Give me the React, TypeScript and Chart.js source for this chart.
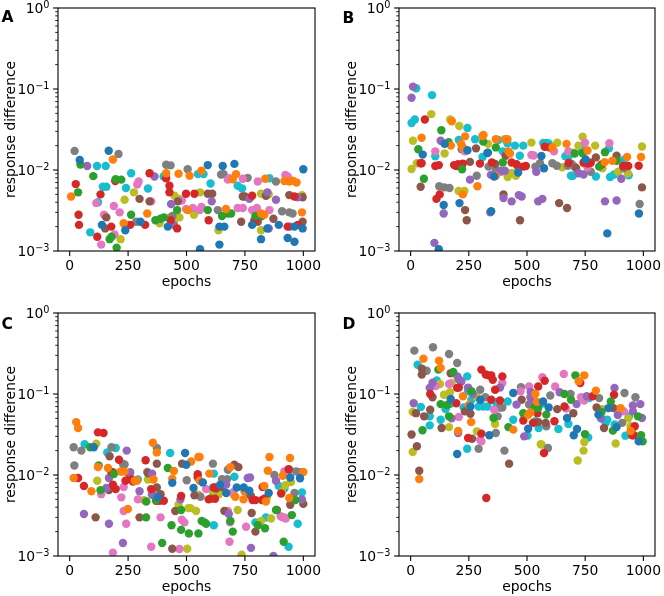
import React, { useEffect, useRef } from 'react';
import { Chart, registerables } from 'chart.js';

Chart.register(...registerables);

// tab10 palette
const COLORS = ['#1f77b4', '#ff7f0e', '#2ca02c', '#d62728', '#9467bd', '#8c564b', '#e377c2', '#7f7f7f', '#bcbd22', '#17becf'];
const bl = 0, or = 1, gr = 2, rd = 3, pu = 4, br = 5, pk = 6, gy = 7, ol = 8, cy = 9;

const X_TICKS = [0, 250, 500, 750, 1000];
const Y_TICKS = [1e-3, 1e-2, 1e-1, 1];
const Y_EXPONENTS = ['\u22123', '\u22122', '\u22121', '0'];
const X_TITLE = 'epochs';
const Y_TITLE = 'response difference';

type Pt = [number, number, number]; // [epoch, response difference, colour index]

const panelA: Pt[] = [
  [21, .0172, gy], [43, .0133, bl], [46, .0117, gr], [75, .0112, pu], [117, .0112, cy], [154, .0112, cy], [167, .0173, bl], [185, .0135, or], [209, .0158, gy], [101, .0084, gr],
  [26, .0067, rd], [36, .0053, gr], [6, .0047, or], [38, .0028, rd], [40, .0021, rd], [142, .0062, cy], [157, .0062, cy], [195, .0073, rd], [197, .0077, gr], [221, .0076, gr],
  [263, .0091, cy], [241, .006, cy], [275, .0053, ol], [235, .0043, ol], [132, .005, rd], [114, .0039, pk], [121, .004, cy], [189, .0036, pk], [214, .003, pk], [295, .0072, pk],
  [289, .0066, pk], [299, .0044, br], [342, .0041, br], [349, .0041, pk], [335, .0059, cy], [342, .0091, rd], [363, .0083, pu], [231, .0022, or], [238, .0018, bl], [285, .0023, gy],
  [303, .0023, bl], [259, .0021, rd], [323, .0021, rd], [332, .0029, or], [263, .0028, gr], [157, .0026, br], [147, .0028, pk], [138, .0021, bl], [152, .0019, br], [178, .002, rd],
  [118, .0015, rd], [88, .0017, cy], [135, .0012, pk], [171, .0014, gr], [179, .0015, gr], [192, .0016, pk], [218, .0014, ol], [201, .0011, gr],
  [413, .0116, gy], [432, .0114, gy], [413, .0091, or], [410, .0087, cy], [466, .009, or], [427, .0064, rd], [427, .0053, rd], [449, .0048, ol], [470, .0044, ol], [434, .0038, pu],
  [463, .0041, br], [480, .0042, pk], [432, .0024, rd], [460, .0032, gr], [367, .0024, gr], [389, .0025, gr], [403, .0026, gr], [385, .0022, ol], [427, .0026, ol], [446, .0023, ol],
  [420, .002, bl], [440, .0027, gy], [445, .0021, pu], [460, .0019, rd], [505, .0032, or], [470, .0026, ol], [413, .0079, rd], [402, .0083, cy],
  [505, .0102, gy], [513, .0085, or], [564, .0098, or], [549, .0089, cy], [573, .0089, cy], [591, .0115, bl], [603, .0068, cy], [655, .0112, bl], [705, .0119, bl], [659, .0089, gy],
  [712, .0089, or], [698, .0077, or], [677, .0076, pk], [684, .0079, pk], [762, .008, gy], [741, .0078, pk], [719, .0064, cy], [738, .0059, cy], [805, .0072, pk], [855, .0079, cy],
  [837, .0078, or], [883, .0072, gy], [923, .0087, pk], [933, .0083, pk], [919, .0073, or], [940, .0072, or], [954, .0074, or], [971, .007, or], [1000, .0102, bl], [498, .0051, rd],
  [558, .0053, ol], [591, .0051, br], [610, .0051, br], [534, .0051, rd], [608, .0041, pu], [741, .0047, br], [750, .0047, br], [781, .0048, rd], [769, .0044, pu], [819, .0051, ol],
  [840, .0048, br], [846, .0053, pu], [852, .005, ol], [883, .0043, pu], [940, .0049, br], [962, .0047, rd], [994, .0049, ol], [975, .0046, pu], [997, .0046, br],
  [498, .0033, pk], [527, .0034, pk], [564, .0035, pk], [557, .0032, pk], [591, .0032, gr], [532, .0028, ol], [634, .0032, gy], [669, .0033, or], [719, .0034, pk], [741, .0034, pk],
  [781, .0032, pk], [801, .0034, pk], [819, .0029, or], [833, .0028, or], [855, .0032, pk], [909, .0031, gy], [940, .003, gy], [954, .0029, gy], [994, .003, or], [652, .0027, gr],
  [677, .0029, gr], [691, .0029, gr], [795, .0027, gr], [823, .0027, gr], [595, .0024, rd], [791, .0024, rd], [805, .0023, br], [734, .0023, br], [872, .0025, br], [933, .002, rd],
  [976, .0021, rd], [997, .0023, br], [641, .002, bl], [662, .002, bl], [781, .0021, bl], [846, .0019, bl], [895, .0021, bl], [962, .002, bl], [997, .0019, bl], [819, .0018, ol],
  [852, .0019, pu], [933, .00145, bl], [962, .0013, bl], [819, .0014, bl], [641, .0012, bl], [558, .00105, bl], [943, .002, pu], [637, .0018, ol], [648, .0088, gy],
];

const panelB: Pt[] = [
  [10, .107, pu], [24, .102, cy], [4, .078, pu], [92, .084, cy], [4, .038, cy], [18, .042, cy], [61, .042, rd], [89, .049, ol], [170, .042, ol], [177, .04, or],
  [209, .035, ol], [244, .033, cy], [132, .031, gr], [10, .023, ol], [47, .025, or], [33, .018, gr], [106, .0148, cy], [106, .017, pk], [52, .0155, bl], [43, .0121, rd],
  [47, .0121, rd], [4, .0103, ol], [27, .0121, ol], [57, .0078, gr], [43, .0062, br], [129, .023, pu], [146, .021, bl], [163, .022, gr], [173, .02, or], [146, .016, ol],
  [207, .0235, cy], [234, .026, or], [217, .021, or], [224, .019, or], [219, .018, gy], [233, .017, pk], [244, .0175, bl], [221, .0102, gr], [106, .0112, rd], [121, .0115, rd],
  [187, .0115, rd], [196, .0112, rd], [204, .0118, rd], [224, .012, rd], [255, .0126, br], [111, .0044, rd], [125, .005, rd], [123, .0063, gy], [145, .0061, gy], [167, .006, gy],
  [206, .0055, ol], [231, .0055, ol], [224, .005, or], [142, .0037, bl], [142, .0029, pu], [210, .0039, bl], [234, .0032, br], [241, .0024, br], [102, .00126, pu], [121, .00105, bl],
  [281, .0185, br], [277, .024, cy], [312, .0224, gr], [309, .0263, or], [284, .0085, gy], [287, .0063, or], [255, .0076, pu], [298, .012, rd], [309, .0145, cy], [330, .0162, bl], [345, .0087, pu],
  [313, .027, or], [332, .021, ol], [366, .024, or], [406, .024, or], [416, .024, or], [377, .0235, cy], [366, .019, gr], [416, .0214, cy], [420, .017, or], [427, .016, or],
  [332, .0164, bl], [349, .0124, rd], [335, .011, gy], [359, .0083, bl], [366, .0085, or], [363, .0119, br], [367, .01, gy], [384, .0098, pu], [391, .0096, pu], [408, .015, br],
  [396, .017, cy], [405, .0098, pu], [417, .0082, ol], [434, .0092, ol], [434, .0124, rd], [396, .0124, gr], [460, .011, gy], [452, .0085, ol], [462, .0093, bl], [455, .0118, rd],
  [448, .02, cy], [469, .015, cy], [484, .02, cy], [484, .011, rd], [495, .0112, rd], [465, .0049, pu], [477, .0047, pu], [470, .0024, br], [434, .0041, pu], [399, .005, br],
  [399, .0045, pu], [346, .0031, bl], [342, .003, pu], [519, .0218, ol], [519, .0153, pk], [529, .0151, pk], [536, .011, gy], [556, .0121, gy], [562, .0149, bl], [540, .0095, pu],
  [573, .0105, bl], [570, .0215, cy], [583, .0215, cy], [593, .0213, cy], [548, .0041, pu], [566, .0044, pu], [576, .0194, rd], [616, .017, pk], [609, .0121, gy], [597, .019, rd],
  [609, .019, or], [630, .0217, ol], [628, .0113, gy], [651, .0108, ol], [638, .0039, br], [670, .021, or], [665, .0148, cy], [678, .0145, cy], [672, .0034, br], [675, .0113, gy],
  [692, .0119, gy], [704, .011, gy], [679, .0122, rd], [689, .0085, cy], [697, .0085, cy], [699, .0163, ol], [678, .017, pk], [705, .016, gr], [721, .02, ol], [722, .0091, pu],
  [743, .0088, pu], [711, .0106, br], [749, .0217, pk], [739, .0257, ol], [739, .0161, gr], [735, .018, cy], [743, .0124, rd], [760, .0174, or], [760, .012, rd], [746, .012, ol],
  [774, .0123, rd], [774, .0095, gy], [796, .0143, br], [793, .02, ol], [796, .0083, cy], [810, .011, gr], [824, .0105, ol], [834, .0125, or], [857, .0082, cy], [874, .0088, cy],
  [835, .0166, gr], [852, .0185, cy], [854, .0214, pk], [867, .013, or], [885, .015, br], [885, .0042, pu], [835, .0041, pu], [845, .00165, bl], [885, .013, gr], [892, .0095, ol],
  [905, .0078, pu], [916, .0133, cy], [913, .0112, rd], [935, .0112, rd], [916, .0105, gy], [933, .0091, ol], [937, .0086, cy], [930, .0145, or], [990, .0145, or], [994, .0195, ol],
  [980, .0113, rd], [994, .0061, br], [984, .0038, gy], [981, .0029, bl], [752, .0135, bl], [760, .0108, pk], [820, .0117, rd],
];

const panelC: Pt[] = [
  [28, .045, or], [36, .038, or], [121, .0336, rd], [145, .033, rd], [17, .022, gy], [64, .024, cy], [50, .02, gy], [88, .022, gr], [103, .022, bl], [114, .0244, ol],
  [179, .022, gy], [161, .019, cy], [197, .0215, cy], [211, .0154, rd], [244, .02, pu], [20, .0131, gy], [124, .0131, gr], [121, .0125, or], [17, .0092, or], [36, .0092, rd],
  [61, .0073, rd], [93, .0063, or], [118, .0085, ol], [132, .0065, gr], [135, .0058, pk], [168, .0065, br], [157, .0069, pu], [168, .0092, pu], [171, .017, br], [164, .0122, or],
  [179, .0108, rd], [185, .0108, rd], [189, .0103, gr], [185, .0076, rd], [197, .0067, rd], [221, .0053, pk], [218, .0111, ol], [228, .0137, gy], [235, .0135, gy], [256, .01, br],
  [259, .0108, pu], [235, .011, or], [221, .011, or], [239, .0085, rd], [231, .0071, pk], [249, .0038, or], [231, .0036, pk], [242, .0025, pk], [228, .00145, pu], [111, .003, br],
  [61, .0033, pu], [168, .0025, pu], [185, .0011, pk], [349, .0013, pk], [318, .0049, ol], [299, .003, br], [328, .0047, gr], [327, .003, gr], [325, .0152, rd], [332, .0109, gy],
  [335, .0105, br], [335, .0088, ol], [292, .0088, cy], [299, .0063, pu], [292, .005, pk], [278, .0085, or], [288, .0085, or], [271, .0083, rd], [264, .0088, rd], [356, .025, or],
  [373, .0215, gy], [373, .019, or], [373, .0138, br], [349, .0067, rd], [353, .0104, pu], [349, .0089, cy], [359, .0088, or], [356, .0057, br], [352, .0057, pu], [370, .0049, gr],
  [373, .007, br], [370, .0048, rd], [385, .0048, rd], [403, .0048, rd], [378, .0053, bl], [389, .0058, br], [389, .003, pk], [396, .00145, gr], [439, .00123, br], [430, .0187, cy],
  [420, .0122, gr], [446, .0112, or], [439, .008, bl], [439, .009, or], [452, .0036, br], [436, .0024, gr], [474, .005, pu], [477, .0055, rd], [466, .0043, ol], [477, .0037, gr],
  [477, .0021, gr], [480, .0028, pk], [491, .0026, pk], [470, .00122, pk], [503, .00123, ol], [494, .0187, bl], [499, .0134, bl], [481, .0138, br], [501, .0086, gy], [520, .0147, or],
  [508, .0039, ol], [517, .0039, ol], [510, .0019, gr], [530, .0069, bl], [534, .0056, br], [541, .0036, ol], [548, .0102, rd], [548, .0094, rd], [551, .0167, or], [556, .0167, or],
  [556, .0085, or], [551, .0057, ol], [560, .0054, gy], [570, .0081, bl], [551, .0019, gr], [565, .0027, gr], [577, .0026, gr], [584, .0025, gr], [584, .0067, pk], [598, .0104, or],
  [613, .0138, gy], [617, .0104, cy], [595, .005, rd], [622, .0051, rd], [603, .0051, br], [613, .006, ol], [622, .007, rd], [615, .007, br], [627, .0068, br], [617, .0024, cy],
  [644, .0076, bl], [638, .0058, ol], [652, .0089, gy], [662, .0036, br], [652, .0071, br], [677, .0116, gy], [674, .0089, gy], [670, .006, bl], [670, .0076, pu], [677, .0036, pk],
  [681, .0033, pu], [684, .0015, pk], [688, .0027, gr], [686, .0026, pk], [688, .0125, or], [705, .0134, br], [722, .0125, br], [705, .0095, cy], [715, .007, bl], [698, .0061, pk],
  [702, .0057, ol], [709, .0054, or], [719, .0037, ol], [698, .002, gr], [736, .00104, ol], [744, .005, or], [745, .007, bl], [748, .0063, or], [755, .0023, pk], [762, .0061, gy],
  [765, .0059, cy], [762, .0092, pu], [772, .0093, pu], [769, .0064, bl], [776, .0055, br], [783, .0049, rd], [779, .0034, br], [776, .00126, pu], [795, .0049, rd], [795, .0026, cy],
  [795, .002, br], [805, .0024, gr], [819, .0027, ol], [836, .0022, gr], [840, .003, cy], [823, .0049, rd], [833, .0051, rd], [826, .0071, rd], [833, .0073, or], [840, .0047, or],
  [852, .006, bl], [845, .0053, ol], [848, .0113, or], [855, .0167, or], [862, .0029, ol], [876, .01, gy], [887, .0037, br], [883, .0085, pu], [895, .0073, cy], [883, .0037, gr],
  [872, .001, pu], [903, .0031, pk], [912, .003, pk], [919, .003, pk], [925, .0029, pk], [919, .0111, pk], [912, .0098, or], [905, .0059, rd], [909, .0062, ol], [919, .0068, cy],
  [916, .0015, gr], [923, .0075, ol], [943, .0162, or], [940, .0116, gy], [937, .0118, rd], [944, .0093, bl], [947, .0082, ol], [944, .0043, br], [951, .0032, gr], [937, .0013, cy],
  [969, .0111, gy], [986, .0108, gy], [962, .006, gy], [966, .0049, gr], [983, .0105, cy], [994, .0061, cy], [994, .005, pu], [976, .0025, cy], [986, .0091, bl], [1000, .0044, br],
  [1000, .0109, or], [940, .0052, or],
];

const panelD: Pt[] = [
  [16, .343, gy], [96, .377, gy], [165, .312, gy], [200, .241, gy], [55, .273, or], [122, .258, or], [30, .23, cy], [48, .206, br], [69, .194, gy], [48, .174, br],
  [119, .2, gr], [129, .21, or], [112, .147, cy], [94, .138, pu], [183, .187, gr], [172, .18, br], [165, .133, pk], [201, .165, pu], [207, .151, pu], [218, .143, pu],
  [200, .119, rd], [207, .12, rd], [176, .137, ol], [108, .125, pk], [126, .133, ol], [82, .119, pu], [84, .1, rd], [94, .091, br], [13, .077, pu], [9, .06, ol],
  [23, .058, br], [44, .069, cy], [58, .053, br], [84, .064, br], [82, .053, cy], [82, .041, cy], [51, .0357, gr], [4, .0316, br], [27, .0226, br], [9, .0192, ol],
  [37, .0113, br], [37, .0089, or], [129, .075, gr], [129, .048, cy], [133, .038, br], [143, .098, ol], [150, .065, cy], [157, .073, gr], [165, .053, gr], [165, .039, ol],
  [169, .075, cy], [172, .087, bl], [169, .105, ol], [176, .05, pu], [196, .077, rd], [204, .033, pu], [200, .0182, bl], [204, .035, or], [207, .052, pk], [225, .094, or],
  [228, .068, cy], [233, .061, br], [243, .165, cy], [247, .12, pu], [250, .073, or], [247, .108, cy], [257, .07, bl], [261, .108, gr], [261, .085, cy], [257, .057, br],
  [247, .0286, rd], [243, .0211, cy], [260, .045, or], [264, .028, br], [304, .2, rd], [323, .174, rd], [335, .17, rd], [346, .17, rd], [353, .15, rd], [394, .165, rd],
  [384, .12, pu], [394, .137, pk], [363, .113, rd], [299, .113, gy], [268, .1, pu], [285, .091, ol], [321, .091, gy], [299, .085, bl], [292, .07, cy], [312, .07, cy],
  [330, .07, cy], [346, .085, rd], [384, .083, rd], [366, .079, cy], [359, .064, pk], [384, .068, gy], [394, .068, gy], [417, .081, cy], [374, .053, gy], [285, .0346, ol],
  [299, .0273, pk], [304, .026, pk], [304, .0324, rd], [292, .0211, gy], [366, .033, gy], [363, .0427, ol], [403, .02, gy], [423, .0138, br], [338, .031, bl], [356, .0506, gr],
  [420, .039, gr], [441, .0363, or], [441, .048, cy], [441, .103, bl], [455, .074, pu], [474, .121, gy], [472, .108, pk], [477, .085, br], [484, .058, gr], [484, .047, rd],
  [488, .03, pu], [502, .0306, cy], [509, .074, gy], [509, .124, pk], [516, .106, pu], [515, .091, pu], [505, .055, or], [515, .059, or], [505, .0373, bl], [519, .081, pu],
  [536, .1, or], [526, .044, rd], [536, .046, cy], [533, .068, gr], [548, .124, rd], [548, .067, gr], [543, .08, or], [548, .045, br], [545, .058, rd], [550, .038, cy],
  [566, .076, cy], [569, .081, bl], [566, .161, pk], [576, .146, rd], [559, .024, ol], [563, .0237, ol], [573, .0187, rd], [583, .0556, gr], [580, .044, br], [583, .04, gy],
  [590, .0215, gy], [593, .068, bl], [600, .096, gy], [621, .124, pk], [618, .046, rd], [630, .065, br], [635, .037, cy], [640, .105, pu], [658, .177, pk], [661, .1, gr],
  [687, .1, gy], [661, .07, rd], [668, .066, pk], [672, .0506, bl], [678, .0427, cy], [689, .085, gr], [699, .058, br], [701, .031, bl], [708, .17, gr], [718, .0151, ol],
  [715, .037, bl], [713, .075, pu], [722, .144, or], [729, .137, rd], [746, .17, or], [732, .091, pk], [757, .094, pu], [746, .083, pk], [743, .02, ol], [746, .0255, ol],
  [749, .032, gr], [763, .029, cy], [782, .094, rd], [767, .089, cy], [796, .11, or], [799, .068, br], [810, .089, gy], [807, .0556, bl], [824, .065, ol], [831, .048, cy],
  [845, .048, cy], [838, .044, cy], [850, .067, bl], [831, .038, br], [860, .081, gr], [874, .098, rd], [876, .119, pu], [869, .0353, gr], [881, .0245, ol], [871, .067, br],
  [885, .039, bl], [877, .042, cy], [902, .067, or], [909, .044, gy], [916, .061, pk], [919, .103, gy], [923, .0306, cy], [938, .053, cy], [945, .04, ol], [949, .037, ol],
  [952, .037, ol], [945, .035, or], [952, .031, rd], [959, .031, rd], [963, .04, rd], [955, .072, pu], [955, .061, pu], [966, .091, gy], [980, .026, bl], [977, .053, gr],
  [990, .031, gr], [987, .075, pu], [994, .0506, pu], [997, .026, gr], [325, .0052, rd], [820, .06, gr], [818, .05, pu], [890, .055, pu], [935, .05, ol],
];

const FS = 13.9;
const FONT = '"DejaVu Sans", sans-serif';

type PanelSpec = {
  letter: string; points: Pt[]; x: number; y: number;
  pad: { left: number; top: number; right: number; bottom: number };
  letterBase: number;
};

const PANELS: PanelSpec[] = [
  { letter: 'A', points: panelA, x: 0, y: 0, pad: { left: 58, top: 8, right: 17, bottom: 47 }, letterBase: 22 },
  { letter: 'B', points: panelB, x: 332, y: 0, pad: { left: 67, top: 8, right: 9, bottom: 47 }, letterBase: 23 },
  { letter: 'C', points: panelC, x: 0, y: 298, pad: { left: 58, top: 15, right: 17, bottom: 40 }, letterBase: 31 },
  { letter: 'D', points: panelD, x: 332, y: 298, pad: { left: 67, top: 15, right: 9, bottom: 40 }, letterBase: 31 },
];

function makeAxesPlugin(letter: string, letterBase: number) {
  return {
    id: 'mplAxes',
    afterDraw(chart: any) {
      const { ctx, chartArea: a, scales } = chart;
      const xs = scales.x, ys = scales.y;
      const line = (x1: number, y1: number, x2: number, y2: number, w: number) => {
        ctx.lineWidth = w; ctx.beginPath(); ctx.moveTo(x1, y1); ctx.lineTo(x2, y2); ctx.stroke();
      };
      ctx.save();
      ctx.strokeStyle = '#000';
      ctx.fillStyle = '#000';
      // spines
      ctx.lineWidth = 1.1;
      ctx.strokeRect(a.left, a.top, a.right - a.left, a.bottom - a.top);
      // x ticks
      ctx.font = `${FS}px ${FONT}`;
      ctx.textAlign = 'center';
      ctx.textBaseline = 'alphabetic';
      for (const v of X_TICKS) {
        const px = xs.getPixelForValue(v);
        line(px, a.bottom, px, a.bottom + 4.9, 1.1);
        ctx.fillText(String(v), px, a.bottom + 18.5);
      }
      // y minor ticks
      for (let k = -3; k < 0; k++) {
        for (let m = 2; m <= 9; m++) {
          const py = ys.getPixelForValue(m * Math.pow(10, k));
          line(a.left - 2.8, py, a.left, py, 0.85);
        }
      }
      // y major ticks + labels (10^k)
      ctx.textAlign = 'left';
      Y_TICKS.forEach((v, i) => {
        const py = ys.getPixelForValue(v);
        line(a.left - 4.9, py, a.left, py, 1.1);
        const exp = Y_EXPONENTS[i];
        ctx.font = `${FS * 0.7}px ${FONT}`;
        const ws = ctx.measureText(exp).width;
        ctx.font = `${FS}px ${FONT}`;
        const wm = ctx.measureText('10').width;
        const right = a.left - 8.5;
        const x0 = right - ws - wm;
        const base = py + 5.3;
        ctx.fillText('10', x0, base);
        ctx.font = `${FS * 0.7}px ${FONT}`;
        ctx.fillText(exp, x0 + wm, base - 5.5);
      });
      // axis titles
      ctx.font = `${FS}px ${FONT}`;
      ctx.textAlign = 'center';
      ctx.fillText(X_TITLE, (a.left + a.right) / 2, a.bottom + 35);
      ctx.save();
      ctx.translate(a.left - 43.5, (a.top + a.bottom) / 2);
      ctx.rotate(-Math.PI / 2);
      ctx.fillText(Y_TITLE, 0, 0);
      ctx.restore();
      // panel letter
      ctx.font = `bold 15.5px ${FONT}`;
      ctx.textAlign = 'left';
      ctx.fillText(letter, a.left - 56.5, letterBase);
      ctx.restore();
    },
  };
}

function Panel({ spec }: { spec: PanelSpec }) {
  const ref = useRef<HTMLCanvasElement | null>(null);
  useEffect(() => {
    if (!ref.current) return;
    const datasets = COLORS.map((c, i) => ({
      data: spec.points.filter(p => p[2] === i).map(p => ({ x: p[0], y: p[1] })),
      backgroundColor: c,
      borderColor: c,
      borderWidth: 0,
      pointRadius: 4.2,
      pointHoverRadius: 4.2,
      clip: 0,
    }));
    const chart = new Chart(ref.current, {
      type: 'scatter',
      data: { datasets } as any,
      options: {
        responsive: false,
        animation: false,
        devicePixelRatio: 1,
        events: [],
        layout: { padding: spec.pad },
        plugins: { legend: { display: false }, tooltip: { enabled: false } },
        scales: {
          x: { type: 'linear', min: -50, max: 1050, display: false },
          y: { type: 'logarithmic', min: 1e-3, max: 1, display: false },
        },
      } as any,
      plugins: [makeAxesPlugin(spec.letter, spec.letterBase)],
    });
    return () => chart.destroy();
  }, [spec]);
  return (
    <canvas
      ref={ref}
      width={332}
      height={298}
      style={{ position: 'absolute', left: spec.x, top: spec.y, width: 332, height: 298 }}
    />
  );
}

export default function App() {
  return (
    <div style={{ position: 'absolute', left: 0, top: 0, width: 664, height: 596, background: '#fff' }}>
      {PANELS.map(p => <Panel key={p.letter} spec={p} />)}
    </div>
  );
}
